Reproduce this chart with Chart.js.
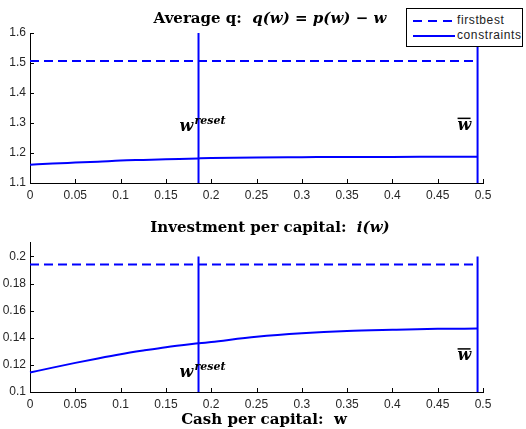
<!DOCTYPE html>
<html>
<head>
<meta charset="utf-8">
<script src="https://cdn.jsdelivr.net/npm/chart.js@4.4.1/dist/chart.umd.min.js"></script>
<style>
  body { margin: 0; background: #fff; }
  #wrap { position: relative; width: 526px; height: 429px; }
  #c1 { position: absolute; left: 0; top: 0; }
  #c2 { position: absolute; left: 0; top: 215px; }
  #legend {
    position: absolute; left: 406px; top: 8px; width: 117px; height: 39px;
    border: 1px solid #000; background: #fff; box-sizing: border-box;
    font: 12px "Liberation Sans", Arial, sans-serif; letter-spacing: 0.6px; color: #222;
  }
  .row { position: absolute; left: 6px; height: 14px; line-height: 14px; white-space: nowrap; }
  .row span.l { display: inline-block; width: 42px; height: 2px; vertical-align: middle; margin-right: 2px; }
  .dash { background: repeating-linear-gradient(90deg, #0000ff 0 9px, transparent 9px 15px); }
  .solid { background: #0000ff; }
</style>
</head>
<body>
<div id="wrap">
  <canvas id="c1" width="526" height="215"></canvas>
  <canvas id="c2" width="526" height="214"></canvas>
  <div id="legend">
    <div class="row" style="top:4px"><span class="l dash"></span>firstbest</div>
    <div class="row" style="top:19px"><span class="l solid"></span>constraints</div>
  </div>
</div>
<script>
// cash per capital grid
const wGrid = [0, 0.025, 0.05, 0.075, 0.1, 0.125, 0.15, 0.186, 0.2, 0.25, 0.3, 0.35, 0.4, 0.45, 0.494];
// average q with constraints
const qConstraints = [1.161, 1.165, 1.168, 1.171, 1.175, 1.177, 1.179, 1.182, 1.183, 1.185, 1.186, 1.187, 1.187, 1.1875, 1.1877];
// investment per capital with constraints
const iConstraints = [0.1144, 0.118, 0.1215, 0.1248, 0.1279, 0.1306, 0.1331, 0.1359, 0.1369, 0.1407, 0.1433, 0.1450, 0.1459, 0.1466, 0.1468];
const qFirstBest = 1.507;
const iFirstBest = 0.1941;
const wReset = 0.186;
const wBar = 0.494;

const BLUE = "#0000ff";
const tickFont = { family: "'Liberation Sans', Arial, sans-serif", size: 12 };
const fmt = v => String(+Number(v).toFixed(4));

function pts(xs, ys) { return xs.map((x, k) => ({ x: x, y: ys[k] })); }

// inward tick marks, matlab style
const innerTicks = {
  id: "innerTicks",
  afterDraw(chart) {
    const ctx = chart.ctx, a = chart.chartArea;
    const xs = chart.scales.x, ys = chart.scales.y;
    ctx.save();
    ctx.strokeStyle = "#000";
    ctx.lineWidth = 1;
    ctx.beginPath();
    xs.ticks.forEach(t => {
      const px = Math.round(xs.getPixelForValue(t.value)) + 0.5;
      ctx.moveTo(px, a.bottom); ctx.lineTo(px, a.bottom - 4);
    });
    ys.ticks.forEach(t => {
      const py = Math.round(ys.getPixelForValue(t.value)) + 0.5;
      ctx.moveTo(a.left, py); ctx.lineTo(a.left + 4, py);
    });
    ctx.stroke();
    ctx.restore();
  }
};

// mixed upright / italic text
function drawParts(ctx, parts, cx, y) {
  let total = 0;
  parts.forEach(p => { ctx.font = p.f; total += ctx.measureText(p.t).width; });
  let x = cx - total / 2;
  parts.forEach(p => {
    ctx.font = p.f;
    ctx.fillText(p.t, x, y);
    x += ctx.measureText(p.t).width;
  });
}

const UP = "bold 15px 'DejaVu Serif', serif";
const IT = "italic bold 15px 'DejaVu Serif', serif";

const textPlugin = {
  id: "texts",
  afterDraw(chart, args, opts) {
    const ctx = chart.ctx;
    const xs = chart.scales.x, ys = chart.scales.y;
    ctx.save();
    ctx.fillStyle = "#000";
    ctx.textBaseline = "alphabetic";
    ctx.textAlign = "left";
    drawParts(ctx, opts.title, 270, opts.titleY);
    if (opts.xlabel) drawParts(ctx, opts.xlabel, 264, opts.xlabelY);
    // w^reset
    const rx = xs.getPixelForValue(wReset);
    const ry = ys.getPixelForValue(opts.resetY);
    ctx.font = "italic bold 16px 'DejaVu Serif', serif";
    ctx.fillText("w", rx - 19, ry);
    ctx.font = "italic bold 11px 'DejaVu Serif', serif";
    ctx.fillText("reset", rx - 4, ry - 7);
    // w bar
    const bx = xs.getPixelForValue(wBar);
    const by = ys.getPixelForValue(opts.barY);
    ctx.font = "italic bold 16px 'DejaVu Serif', serif";
    ctx.fillText("w", bx - 20, by);
    ctx.fillRect(bx - 20, by - 12, 13, 1.5);
    ctx.restore();
  }
};

function makeChart(id, ys, fb, yMin, yMax, yStep, layoutPad, xHeight, textOpts) {
  return new Chart(document.getElementById(id), {
    type: "line",
    data: {
      datasets: [
        { data: [{ x: 0, y: fb }, { x: wBar, y: fb }], borderColor: BLUE, borderWidth: 2, borderDash: [9, 5] },
        { data: pts(wGrid, ys), borderColor: BLUE, borderWidth: 2, tension: 0.4, cubicInterpolationMode: "monotone" },
        { data: [{ x: wReset, y: yMin }, { x: wReset, y: textOpts.vTop }], borderColor: BLUE, borderWidth: 2 },
        { data: [{ x: wBar, y: yMin }, { x: wBar, y: textOpts.vTop }], borderColor: BLUE, borderWidth: 2 }
      ]
    },
    options: {
      responsive: false,
      animation: false,
      clip: false,
      elements: { point: { radius: 0 } },
      layout: { padding: layoutPad },
      plugins: { legend: { display: false }, tooltip: { enabled: false }, texts: textOpts },
      scales: {
        x: {
          type: "linear", min: 0, max: 0.5,
          grid: { display: false, drawTicks: false },
          border: { color: "#000", width: 1 },
          ticks: { stepSize: 0.05, padding: 5, color: "#262626", font: tickFont, maxRotation: 0, callback: fmt },
          afterFit(s) { s.height = xHeight; }
        },
        y: {
          type: "linear", min: yMin, max: yMax,
          grid: { display: false, drawTicks: false },
          border: { color: "#000", width: 1 },
          ticks: { stepSize: yStep, padding: 4, color: "#262626", font: tickFont, callback: fmt },
          afterBuildTicks(s) { s.ticks = s.ticks.filter(t => t.value <= textOpts.yTickMax + 1e-9); },
          afterFit(s) { s.width = 30; }
        }
      }
    },
    plugins: [innerTicks, textPlugin]
  });
}

makeChart("c1", qConstraints, qFirstBest, 1.1, 1.6, 0.1,
  { left: 0, right: 43, top: 33, bottom: 0 }, 32,
  {
    title: [{ t: "Average q:  ", f: UP }, { t: "q(w) = p(w) − w", f: IT }],
    titleY: 23, resetY: 1.272, barY: 1.278, vTop: 1.6, yTickMax: 1.6
  });

makeChart("c2", iConstraints, iFirstBest, 0.1, 0.2107, 0.02,
  { left: 0, right: 43, top: 27, bottom: 0 }, 37,
  {
    title: [{ t: "Investment per capital:  ", f: UP }, { t: "i(w)", f: IT }],
    titleY: 17,
    xlabel: [{ t: "Cash per capital:  w", f: UP }],
    xlabelY: 209,
    resetY: 0.1108, barY: 0.1235, vTop: 0.2, yTickMax: 0.2
  });
</script>
</body>
</html>
